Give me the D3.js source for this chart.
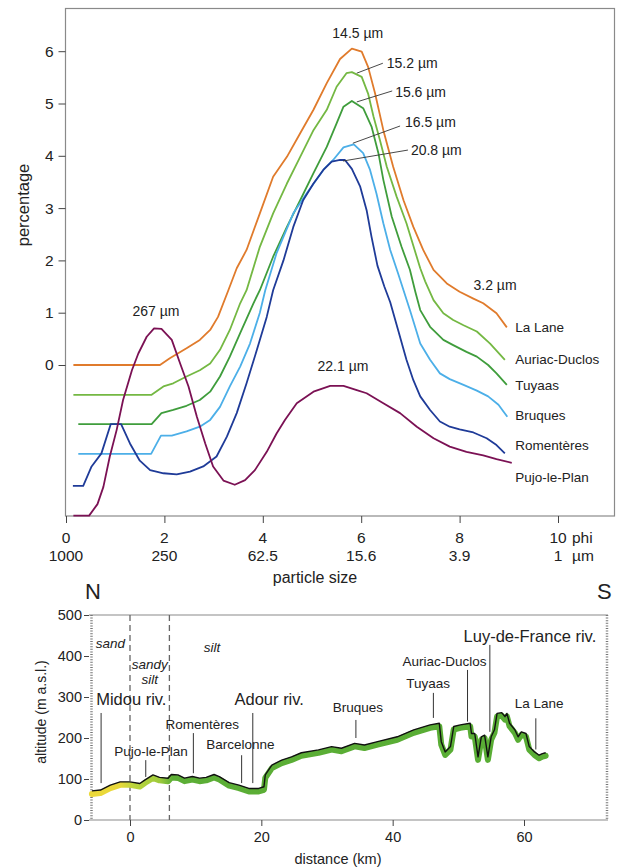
<!DOCTYPE html>
<html><head><meta charset="utf-8">
<script src="https://cdn.jsdelivr.net/npm/d3@7"></script>
<style>
body{margin:0;background:#fff;}
svg{font-family:"Liberation Sans",Arial,sans-serif;}
</style></head>
<body>
<svg id="chart" width="619" height="868"></svg>
<script>
// ---------- DATA: grain-size distributions (phi, displayed percentage incl. offset) ----------
const seriesNames = ["La Lane","Auriac-Duclos","Tuyaas","Bruques","Romentères","Pujo-le-Plan"];
const laLane = [[0.15,0],[1.91,0],[2.11,0.13],[2.45,0.32],[2.72,0.48],[2.93,0.67],[3.09,0.92],[3.3,1.43],[3.47,1.85],[3.67,2.2],[3.94,2.9],[4.21,3.6],[4.49,3.98],[4.76,4.43],[5.03,4.88],[5.3,5.39],[5.57,5.85],[5.81,6.05],[6.01,5.99],[6.14,5.7],[6.28,5.2],[6.45,4.49],[6.65,3.79],[6.86,3.15],[7.06,2.64],[7.26,2.2],[7.47,1.82],[7.74,1.56],[8.0,1.4],[8.28,1.27],[8.48,1.18],[8.75,0.99],[8.96,0.72]];
const auriacDuclos = [[0.15,-0.57],[1.74,-0.57],[1.98,-0.41],[2.18,-0.35],[2.45,-0.22],[2.72,-0.1],[2.93,0.03],[3.13,0.29],[3.33,0.67],[3.54,1.18],[3.67,1.43],[3.94,2.26],[4.21,2.9],[4.49,3.47],[4.76,3.98],[5.03,4.49],[5.3,4.88],[5.5,5.32],[5.7,5.58],[5.81,5.6],[6.01,5.51],[6.14,5.19],[6.25,4.75],[6.38,4.3],[6.52,3.79],[6.72,3.22],[6.92,2.71],[7.2,1.85],[7.3,1.6],[7.47,1.24],[7.67,0.99],[7.87,0.86],[8.08,0.76],[8.35,0.64],[8.62,0.41],[8.92,0.1]];
const tuyaas = [[0.25,-1.13],[1.74,-1.13],[1.94,-0.92],[2.18,-0.86],[2.45,-0.78],[2.72,-0.67],[2.93,-0.51],[3.13,-0.22],[3.33,0.16],[3.54,0.61],[3.81,1.18],[3.94,1.43],[4.21,2.07],[4.49,2.64],[4.76,3.15],[5.03,3.67],[5.3,4.17],[5.5,4.62],[5.64,4.94],[5.81,5.05],[6.04,4.91],[6.21,4.56],[6.35,4.05],[6.45,3.54],[6.62,2.84],[6.82,2.26],[6.99,1.82],[7.1,1.4],[7.2,1.05],[7.4,0.73],[7.67,0.48],[7.87,0.38],[8.14,0.25],[8.35,0.16],[8.58,0],[8.75,-0.16],[8.96,-0.38]];
const bruques = [[0.25,-1.70],[1.73,-1.70],[1.93,-1.35],[2.15,-1.35],[2.45,-1.27],[2.72,-1.18],[2.93,-1.05],[3.13,-0.8],[3.33,-0.41],[3.54,-0.03],[3.74,0.41],[3.94,1.0],[4.05,1.43],[4.28,2.14],[4.62,2.9],[4.89,3.28],[5.23,3.73],[5.43,3.92],[5.64,4.16],[5.85,4.22],[6.04,4.05],[6.18,3.73],[6.31,3.28],[6.45,2.71],[6.59,2.2],[6.75,1.75],[6.99,1.05],[7.2,0.41],[7.4,0.1],[7.6,-0.16],[7.8,-0.27],[8.08,-0.38],[8.35,-0.49],[8.58,-0.6],[8.79,-0.76],[8.97,-0.99]];
const romenteres = [[0.14,-2.31],[0.35,-2.31],[0.52,-1.94],[0.72,-1.69],[0.91,-1.13],[1.12,-1.13],[1.3,-1.5],[1.5,-1.83],[1.71,-2.01],[1.98,-2.07],[2.25,-2.09],[2.52,-2.04],[2.79,-1.94],[3.06,-1.75],[3.27,-1.37],[3.47,-0.92],[3.67,-0.35],[3.88,0.29],[4.08,0.92],[4.21,1.43],[4.42,2.0],[4.62,2.64],[4.82,3.15],[5.03,3.47],[5.23,3.73],[5.4,3.89],[5.57,3.92],[5.67,3.92],[5.81,3.75],[5.98,3.41],[6.11,2.96],[6.21,2.45],[6.33,1.9],[6.47,1.5],[6.59,1.2],[6.75,0.67],[6.92,0.1],[7.06,-0.29],[7.2,-0.6],[7.4,-0.86],[7.6,-1.08],[7.8,-1.18],[8.0,-1.23],[8.28,-1.29],[8.55,-1.4],[8.75,-1.53],[8.92,-1.69]];
const pujoLePlan = [[0.15,-2.88],[0.47,-2.88],[0.64,-2.66],[0.76,-2.33],[0.89,-1.75],[1.03,-1.24],[1.16,-0.67],[1.34,-0.1],[1.47,0.22],[1.64,0.54],[1.79,0.7],[1.94,0.69],[2.15,0.48],[2.32,0.03],[2.49,-0.41],[2.66,-0.99],[2.83,-1.5],[2.99,-1.94],[3.2,-2.21],[3.43,-2.29],[3.64,-2.2],[3.84,-2.01],[4.08,-1.66],[4.28,-1.31],[4.45,-1.05],[4.69,-0.73],[5.03,-0.51],[5.37,-0.4],[5.64,-0.4],[5.91,-0.48],[6.11,-0.54],[6.45,-0.73],[6.79,-0.92],[7.13,-1.18],[7.47,-1.4],[7.8,-1.56],[8.14,-1.66],[8.48,-1.73],[8.75,-1.8],[9.06,-1.87]];
const seriesData = [laLane, auriacDuclos, tuyaas, bruques, romenteres, pujoLePlan];
// label anchor value (percentage) for each series name at right
const seriesLabelValues = [0.72, 0.11, -0.38, -0.96, -1.53, -2.14];

const phiTicks = [0,2,4,6,8,10];
const umTickLabels = ["1000","250","62.5","15.6","3.9","1"];
const pctTicks = [0,1,2,3,4,5,6];

// mode annotations: text, label phi, label value, anchor, leader [phi1,v1,phi2,v2] or null
const modeLabels = [
  {t:"14.5 µm", phi:5.93, v:6.35, a:"middle", lead:null},
  {t:"15.2 µm", phi:6.52, v:5.77, a:"start", lead:[5.91,5.58,6.44,5.77]},
  {t:"15.6 µm", phi:6.69, v:5.22, a:"start", lead:[5.91,5.03,6.63,5.24]},
  {t:"16.5 µm", phi:6.89, v:4.65, a:"start", lead:[5.83,4.24,6.79,4.57]},
  {t:"20.8 µm", phi:7.01, v:4.11, a:"start", lead:[5.63,3.90,6.95,4.11]},
  {t:"267 µm", phi:1.83, v:1.04, a:"middle", lead:null},
  {t:"22.1 µm", phi:5.63, v:-0.03, a:"middle", lead:null},
  {t:"3.2 µm", phi:8.72, v:1.53, a:"middle", lead:null}
];

// ---------- DATA: topographic profile (km, m a.s.l.) ----------
const profileKm  = [-5.8,-4.5,-3.0,-1.5,0,1.5,2.3,3.5,4.5,5.8,6.3,7.3,8.3,9.5,10.6,11.6,12.8,13.6,15.1,16.6,18.1,19.6,20.4,20.6,21.6,23.1,24.6,26.1,28.7,30.7,32.2,34.2,35.7,37.7,40.7,43.2,45.7,47.1,47.4,48.0,48.8,49.3,50.3,51.8,52.0,52.5,53.0,53.5,54.0,54.5,55.0,55.5,55.9,56.6,57.1,57.4,57.8,58.6,59.1,59.6,60.3,60.8,61.6,62.3,62.8,63.3];
const profileAlt = [71,73,85,93,93,89,98,110,104,102,111,110,102,106,102,104,111,106,91,85,77,77,81,110,134,146,154,164,171,179,175,187,183,191,203,220,232,236,191,166,179,228,232,236,211,211,154,203,207,154,203,220,260,262,252,260,236,220,203,215,211,179,166,158,162,164];
const profileTicks = [0,20,40,60];
const altTicks = [0,100,200,300,400,500];
const soilBounds = [0,6];
// place labels: text, km of text centre, altitude of text centre, km of leader, leader top/bottom altitude, big font?
const placeLabels = [
  {t:"Midou riv.", km:0.2, alt:294, lk:-4.4, top:261, bot:90, big:true},
  {t:"Pujo-le-Plan", km:3.2, alt:168, lk:2.4, top:146, bot:105, big:false},
  {t:"Romentères", km:11.0, alt:234, lk:9.65, top:212, bot:114, big:false},
  {t:"Barcelonne", km:16.8, alt:185, lk:17.0, top:158, bot:90, big:false},
  {t:"Adour riv.", km:21.2, alt:294, lk:18.7, top:261, bot:90, big:true},
  {t:"Bruques", km:34.7, alt:276, lk:34.4, top:244, bot:200, big:false},
  {t:"Tuyaas", km:45.4, alt:334, lk:46.2, top:310, bot:249, big:false},
  {t:"Auriac-Duclos", km:47.9, alt:388, lk:51.4, top:366, bot:240, big:false},
  {t:"Luy-de-France riv.", km:60.9, alt:449, lk:54.8, top:427, bot:215, big:true},
  {t:"La Lane", km:62.3, alt:285, lk:61.8, top:248, bot:172, big:false}
];
// soil zone labels: lines of text, km of centre, altitude of first line
const soilLabels = [
  {t:["sand"], km:-3.0, alt:430},
  {t:["sandy","silt"], km:3.0, alt:381},
  {t:["silt"], km:12.5, alt:422}
];

// ---------- DRAW ----------
const svg = d3.select("#chart");
const colors = ["#e07b2c","#74b843","#3f9d3c","#4cafe8","#1f3b98","#7b1154"];
const FONT_TICK = 15.5;

// top panel
const x = d3.scaleLinear().domain([0,10]).range([66,558]);
const y = d3.scaleLinear().domain([0,6]).range([365,51.2]);
const gTop = svg.append("g");
gTop.append("rect").attr("x",65.5).attr("y",8.5).attr("width",549).attr("height",507.5)
  .attr("fill","none").attr("stroke","#8a8a8a").attr("stroke-width",1.2);

const yAxis = d3.axisLeft(y).tickValues(pctTicks).tickSize(7).tickFormat(d3.format("d"));
gTop.append("g").attr("transform","translate(65.5,0)").call(yAxis)
  .call(g=>g.select(".domain").remove())
  .call(g=>g.selectAll("line").attr("stroke","#444"))
  .call(g=>g.selectAll("text").attr("font-size",FONT_TICK).attr("fill","#222").attr("font-family","Liberation Sans, Arial, sans-serif").attr("x",-12));

const xAxis = d3.axisBottom(x).tickValues(phiTicks).tickSize(7).tickFormat(d=>"");
gTop.append("g").attr("transform","translate(0,516)").call(xAxis)
  .call(g=>g.select(".domain").remove())
  .call(g=>g.selectAll("line").attr("stroke","#444"));
phiTicks.forEach((p,i)=>{
  gTop.append("text").attr("x",x(p)).attr("y",543).attr("text-anchor","middle")
    .attr("font-size",FONT_TICK).attr("fill","#222").text(p);
  gTop.append("text").attr("x",x(p)).attr("y",561).attr("text-anchor","middle")
    .attr("font-size",FONT_TICK).attr("fill","#222").text(umTickLabels[i]);
});
gTop.append("text").attr("x",x(10)+14).attr("y",543).attr("font-size",FONT_TICK).attr("fill","#222").text("phi");
gTop.append("text").attr("x",x(10)+14).attr("y",561).attr("font-size",FONT_TICK).attr("fill","#222").text("µm");
gTop.append("text").attr("x",315).attr("y",583).attr("text-anchor","middle").attr("font-size",16).attr("fill","#222").text("particle size");
gTop.append("text").attr("transform","translate(29,205) rotate(-90)").attr("text-anchor","middle")
  .attr("font-size",16.5).attr("fill","#222").text("percentage");

const line = d3.line().x(d=>x(d[0])).y(d=>y(d[1]));
seriesData.forEach((s,i)=>{
  gTop.append("path").datum(s).attr("d",line).attr("fill","none")
    .attr("stroke",colors[i]).attr("stroke-width",1.8).attr("stroke-linejoin","round");
});
seriesNames.forEach((n,i)=>{
  gTop.append("text").attr("x",x(9.13)).attr("y",y(seriesLabelValues[i])).attr("dy","0.35em")
    .attr("font-size",13.5).attr("fill","#222").text(n);
});
modeLabels.forEach(m=>{
  if(m.lead){
    gTop.append("line").attr("x1",x(m.lead[0])).attr("y1",y(m.lead[1])).attr("x2",x(m.lead[2])).attr("y2",y(m.lead[3]))
      .attr("stroke","#333").attr("stroke-width",0.9);
  }
  gTop.append("text").attr("x",x(m.phi)).attr("y",y(m.v)).attr("dy","0.35em").attr("text-anchor",m.a)
    .attr("font-size",14).attr("fill","#222").text(m.t);
});

// bottom panel
const bx = d3.scaleLinear().domain([0,60]).range([130,524]);
const by = d3.scaleLinear().domain([0,500]).range([820,615]);
const gBot = svg.append("g");
const defs = svg.append("defs");
const grad = defs.append("linearGradient").attr("id","soilGrad").attr("gradientUnits","userSpaceOnUse")
  .attr("x1",bx(-6)).attr("x2",bx(66)).attr("y1",0).attr("y2",0);
const gx = v=> (v+6)/72;
[[-6,"#ecd93a"],[-1.5,"#e8d83a"],[0.5,"#bcd53c"],[4.5,"#9fcb3c"],[6.5,"#5cae36"],[66,"#58ad34"]]
  .forEach(s=>grad.append("stop").attr("offset",gx(s[0])).attr("stop-color",s[1]));

gBot.append("line").attr("x1",89).attr("x2",608).attr("y1",615).attr("y2",615).attr("stroke","#8a8a8a").attr("stroke-width",1.2);
gBot.append("line").attr("x1",89).attr("x2",608).attr("y1",820).attr("y2",820).attr("stroke","#8a8a8a").attr("stroke-width",1.2);
[91.5,607].forEach(px=>{
  gBot.append("line").attr("x1",px).attr("x2",px).attr("y1",615).attr("y2",820)
    .attr("stroke","#777").attr("stroke-width",2.5).attr("stroke-dasharray","1,1.6");
});
const byAxis = d3.axisLeft(by).tickValues(altTicks).tickSize(5);
gBot.append("g").attr("transform","translate(89,0)").call(byAxis)
  .call(g=>g.select(".domain").remove())
  .call(g=>g.selectAll("line").attr("stroke","#444"))
  .call(g=>g.selectAll("text").attr("font-size",14.5).attr("fill","#222").attr("font-family","Liberation Sans, Arial, sans-serif").attr("x",-7));
const bxAxis = d3.axisBottom(bx).tickValues(profileTicks).tickSize(6);
gBot.append("g").attr("transform","translate(0,820)").call(bxAxis)
  .call(g=>g.select(".domain").remove())
  .call(g=>g.selectAll("line").attr("stroke","#444"))
  .call(g=>g.selectAll("text").attr("font-size",14.5).attr("fill","#222").attr("font-family","Liberation Sans, Arial, sans-serif").attr("dy","0.9em"));
gBot.append("text").attr("x",338).attr("y",864).attr("text-anchor","middle").attr("font-size",14.5).attr("fill","#222").text("distance (km)");
gBot.append("text").attr("transform","translate(46,712) rotate(-90)").attr("text-anchor","middle")
  .attr("font-size",14).attr("fill","#222").text("altitude (m a.s.l.)");
gBot.append("text").attr("x",85).attr("y",599).attr("font-size",22).attr("fill","#222").text("N");
gBot.append("text").attr("x",597).attr("y",599).attr("font-size",22).attr("fill","#222").text("S");

soilBounds.forEach(k=>{
  gBot.append("line").attr("x1",bx(k)).attr("x2",bx(k)).attr("y1",615).attr("y2",820)
    .attr("stroke","#666").attr("stroke-width",1.3).attr("stroke-dasharray","6,4");
});
soilLabels.forEach(s=>{
  s.t.forEach((ln,i)=>{
    gBot.append("text").attr("x",bx(s.km)).attr("y",by(s.alt)+i*15.5).attr("dy","0.35em").attr("text-anchor","middle")
      .attr("font-size",13.5).attr("font-style","italic").attr("fill","#222").text(ln);
  });
});

const profile = profileKm.map((k,i)=>[k,profileAlt[i]]);
const pline = d3.line().x(d=>bx(d[0])).y(d=>by(d[1]));
gBot.append("path").datum(profile).attr("d",pline).attr("transform","translate(0,3)")
  .attr("fill","none").attr("stroke","url(#soilGrad)").attr("stroke-width",6).attr("stroke-linejoin","round").attr("stroke-linecap","round");
gBot.append("path").datum(profile).attr("d",pline)
  .attr("fill","none").attr("stroke","#111").attr("stroke-width",1.4).attr("stroke-linejoin","round");

placeLabels.forEach(p=>{
  gBot.append("line").attr("x1",bx(p.lk)).attr("x2",bx(p.lk)).attr("y1",by(p.top)).attr("y2",by(p.bot))
    .attr("stroke","#333").attr("stroke-width",1);
  gBot.append("text").attr("x",bx(p.km)).attr("y",by(p.alt)).attr("dy","0.35em").attr("text-anchor","middle")
    .attr("font-size",p.big?16.5:13.5).attr("fill","#222").text(p.t);
});
</script>
</body></html>
